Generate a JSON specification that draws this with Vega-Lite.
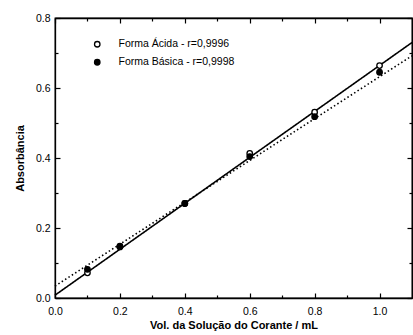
{
  "$schema": "https://vega.github.io/schema/vega-lite/v6.json",
  "width": 357,
  "height": 280,
  "autosize": {"type": "none"},
  "padding": {"left": 55, "top": 18, "right": 1, "bottom": 37},
  "background": "white",
  "config": {
    "view": {"stroke": "black", "strokeWidth": 1.3},
    "font": "Liberation Sans",
    "axis": {
      "domainColor": "black", "domainWidth": 1.3, "tickColor": "black", "tickWidth": 1.2,
      "labelFont": "Liberation Sans", "labelFontSize": 10.5, "labelColor": "black",
      "titleFont": "Liberation Sans", "titleFontSize": 11, "titleFontWeight": "bold", "titleColor": "black",
      "grid": false
    }
  },
  "datasets": {
    "pts": [
      {"vol": 0.1, "abs": 0.072, "serie": "Forma Ácida - r=0,9996"},
      {"vol": 0.2, "abs": 0.146, "serie": "Forma Ácida - r=0,9996"},
      {"vol": 0.4, "abs": 0.27, "serie": "Forma Ácida - r=0,9996"},
      {"vol": 0.6, "abs": 0.413, "serie": "Forma Ácida - r=0,9996"},
      {"vol": 0.8, "abs": 0.531, "serie": "Forma Ácida - r=0,9996"},
      {"vol": 1.0, "abs": 0.664, "serie": "Forma Ácida - r=0,9996"},
      {"vol": 0.1, "abs": 0.082, "serie": "Forma Básica - r=0,9998"},
      {"vol": 0.2, "abs": 0.148, "serie": "Forma Básica - r=0,9998"},
      {"vol": 0.4, "abs": 0.27, "serie": "Forma Básica - r=0,9998"},
      {"vol": 0.6, "abs": 0.404, "serie": "Forma Básica - r=0,9998"},
      {"vol": 0.8, "abs": 0.518, "serie": "Forma Básica - r=0,9998"},
      {"vol": 1.0, "abs": 0.645, "serie": "Forma Básica - r=0,9998"}
    ],
    "fits": [
      {"vol": 0.0, "abs": 0.008, "fit": "acida"},
      {"vol": 1.1, "abs": 0.73, "fit": "acida"},
      {"vol": 0.0, "abs": 0.034, "fit": "basica"},
      {"vol": 1.1, "abs": 0.692, "fit": "basica"}
    ]
  },
  "resolve": {"axis": {"x": "independent", "y": "independent"}},
  "layer": [
    {
      "data": {"name": "fits"},
      "mark": {"type": "line", "color": "black", "strokeWidth": 1.6},
      "encoding": {
        "x": {"field": "vol", "type": "quantitative", "scale": {"domain": [0, 1.1], "nice": false},
          "axis": {"orient": "bottom", "title": "Vol. da Solução do Corante / mL",
            "values": [0, 0.1, 0.2, 0.3, 0.4, 0.5, 0.6, 0.7, 0.8, 0.9, 1.0],
            "labelExpr": "round(datum.value*10) % 2 == 0 ? format(datum.value, '.1f') : ''",
            "tickSize": {"condition": {"test": "round(datum.value*10) % 2 == 0", "value": -5}, "value": -3},
            "labelPadding": 13, "titlePadding": 3, "labelFlush": false}},
        "y": {"field": "abs", "type": "quantitative", "scale": {"domain": [0, 0.8], "nice": false},
          "axis": {"orient": "left", "title": "Absorbância",
            "values": [0, 0.1, 0.2, 0.3, 0.4, 0.5, 0.6, 0.7, 0.8],
            "labelExpr": "round(datum.value*10) % 2 == 0 ? format(datum.value, '.1f') : ''",
            "tickSize": {"condition": {"test": "round(datum.value*10) % 2 == 0", "value": -5}, "value": -3},
            "labelPadding": 10, "titlePadding": 10, "labelFlush": false}},
        "strokeDash": {"field": "fit", "type": "nominal",
          "scale": {"domain": ["acida", "basica"], "range": [[1, 0], [1.5, 2.5]]}, "legend": null}
      }
    },
    {
      "data": {"name": "pts"},
      "mark": {"type": "point", "filled": false, "stroke": "black", "strokeWidth": 1.3, "size": 30, "opacity": 1},
      "encoding": {
        "x": {"field": "vol", "type": "quantitative", "axis": {"orient": "top", "labels": false, "title": null,
            "values": [0, 0.1, 0.2, 0.3, 0.4, 0.5, 0.6, 0.7, 0.8, 0.9, 1.0],
            "tickSize": {"condition": {"test": "round(datum.value*10) % 2 == 0", "value": -5}, "value": -3}}},
        "y": {"field": "abs", "type": "quantitative", "axis": {"orient": "right", "labels": false, "title": null,
            "values": [0, 0.1, 0.2, 0.3, 0.4, 0.5, 0.6, 0.7, 0.8],
            "tickSize": {"condition": {"test": "round(datum.value*10) % 2 == 0", "value": -5}, "value": -3}}},
        "fill": {"field": "serie", "type": "nominal",
          "scale": {"domain": ["Forma Ácida - r=0,9996", "Forma Básica - r=0,9998"], "range": ["white", "black"]},
          "legend": {"title": null, "orient": "none", "legendX": 37, "legendY": 21,
            "symbolType": "circle", "symbolStrokeColor": "black", "symbolStrokeWidth": 1.3, "symbolSize": 30,
            "labelFont": "Liberation Sans", "labelFontSize": 10.5, "labelColor": "black", "labelOffset": 16, "rowPadding": 6}}
      }
    }
  ]
}
